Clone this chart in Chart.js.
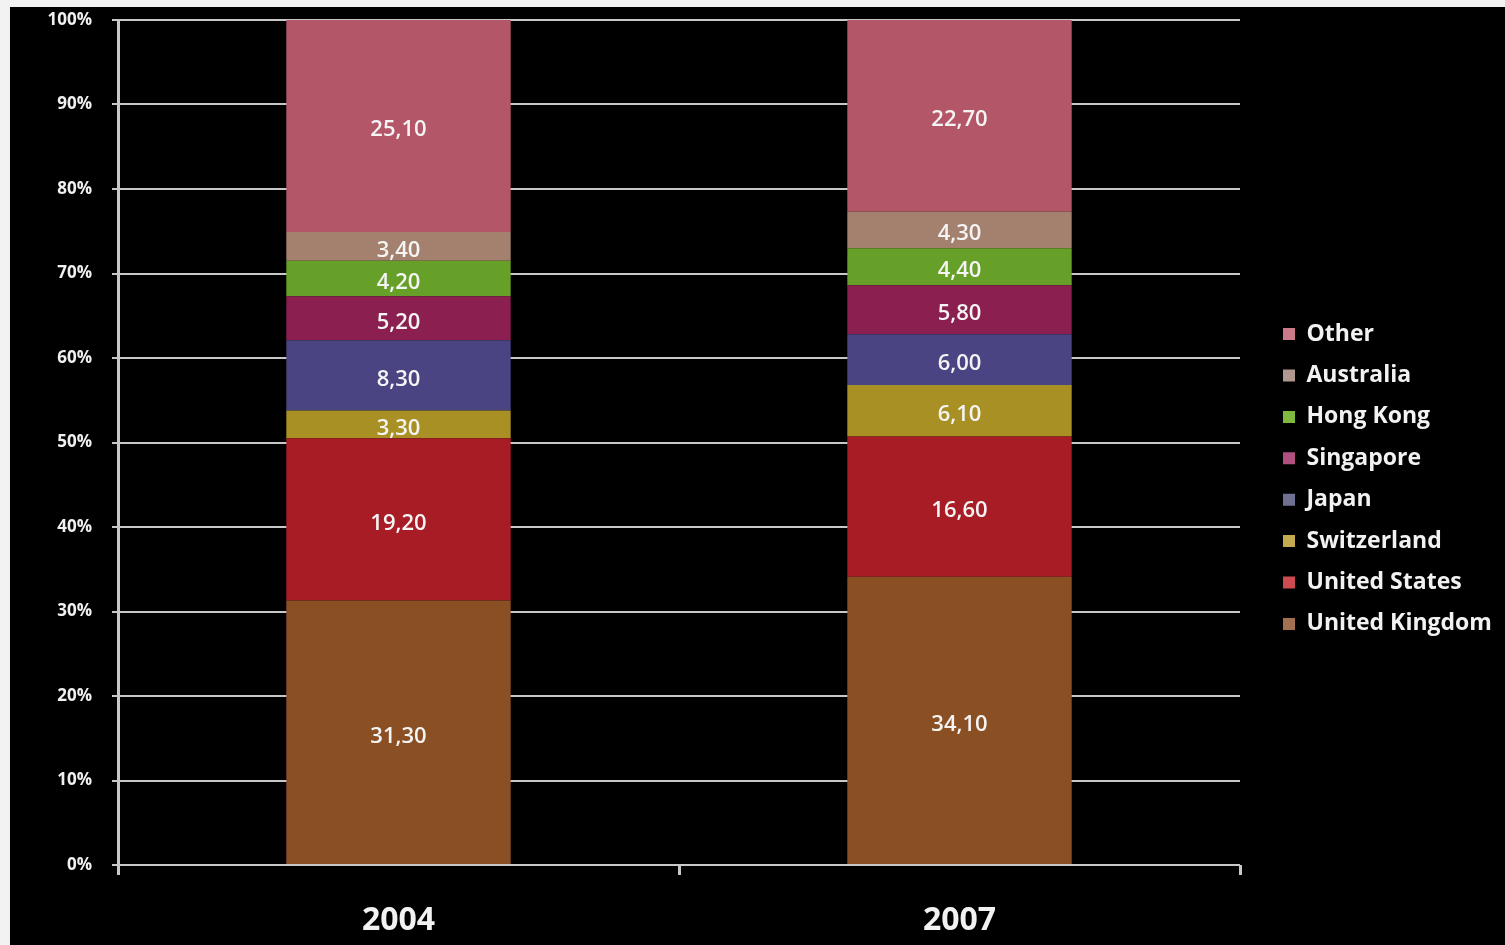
<!DOCTYPE html>
<html>
<head>
<meta charset="utf-8">
<script src="https://cdn.jsdelivr.net/npm/chart.js@4/dist/chart.umd.min.js"></script>
<style>
  html, body { margin: 0; padding: 0; background: #f2f2f2; width: 1505px; height: 945px; overflow: hidden; }
  #frame { position: absolute; left: 10px; top: 7px; width: 1495px; height: 938px; background: #000; }
  canvas { display: block; }
</style>
</head>
<body>
<div id="frame"><canvas id="c" width="1495" height="938"></canvas></div>
<script>
// ---- data ----
const categories = ['2004', '2007'];
const seriesNames = ['United Kingdom', 'United States', 'Switzerland', 'Japan', 'Singapore', 'Hong Kong', 'Australia', 'Other'];
const ukValues = [31.3, 34.1];
const usValues = [19.2, 16.6];
const chValues = [3.3, 6.1];
const jpValues = [8.3, 6.0];
const sgValues = [5.2, 5.8];
const hkValues = [4.2, 4.4];
const auValues = [3.4, 4.3];
const otherValues = [25.1, 22.7];
const yTickValues = [0, 10, 20, 30, 40, 50, 60, 70, 80, 90, 100];

// ---- styles ----
const barColors = ['#8a5024', '#a81c26', '#a89024', '#4a4482', '#8a1f50', '#66a028', '#a4806e', '#b35668'];
const legendColors = ['#a07050', '#cc4a50', '#c4aa50', '#707090', '#b05080', '#80b840', '#b09890', '#cc7a8a'];
const FONT = '"Open Sans", "DejaVu Sans", sans-serif';

const allValues = [ukValues, usValues, chValues, jpValues, sgValues, hkValues, auValues, otherValues];

// layout constants
const CANVAS_W = 1495;
const PLOT_LEFT = 108, PLOT_RIGHT = 1230;
const LEGEND_FONT = 23, LEGEND_PAD = 18.4, LEGEND_BOX = 12;
const LEGEND_BOX_X = 1273;

const mctx = document.createElement('canvas').getContext('2d');
mctx.font = 'bold ' + LEGEND_FONT + 'px ' + FONT;
let maxText = 0;
seriesNames.forEach(n => { maxText = Math.max(maxText, mctx.measureText(n).width); });
const legendLeft = LEGEND_BOX_X - LEGEND_PAD;
const legendWidth = LEGEND_PAD + LEGEND_BOX + LEGEND_FONT / 2 + maxText + 10;
const padRight = Math.max(0, CANVAS_W - legendLeft - legendWidth);

const datasets = seriesNames.map((name, i) => ({
  label: name,
  data: allValues[i],
  backgroundColor: barColors[i],
  borderWidth: 0,
  categoryPercentage: 1.0,
  barPercentage: 0.4,
  yAxisID: 'y'
}));

const valueLabels = {
  id: 'valueLabels',
  afterDatasetsDraw(chart) {
    const ctx = chart.ctx;
    ctx.save();
    ctx.font = '600 22px ' + FONT;
    ctx.fillStyle = '#f4f4f4';
    ctx.textAlign = 'center';
    ctx.textBaseline = 'middle';
    chart.data.datasets.forEach((ds, di) => {
      const meta = chart.getDatasetMeta(di);
      meta.data.forEach((el, j) => {
        const p = el.getProps(['x', 'y', 'base'], true);
        const v = ds.data[j];
        ctx.fillText(v.toFixed(2).replace('.', ','), p.x, (p.y + p.base) / 2 + 4);
      });
    });
    ctx.restore();
  }
};

function noPad(s) {
  s.paddingTop = 0; s.paddingBottom = 0; s.paddingLeft = 0; s.paddingRight = 0;
}

new Chart(document.getElementById('c'), {
  type: 'bar',
  data: { labels: categories, datasets },
  plugins: [valueLabels],
  options: {
    responsive: false,
    animation: false,
    layout: { padding: { left: 0, right: padRight, top: 13, bottom: 7 } },
    plugins: {
      tooltip: { enabled: false },
      legend: {
        position: 'right',
        reverse: true,
        align: 'center',
        labels: {
          color: '#f2f2f2',
          boxWidth: LEGEND_BOX,
          boxHeight: LEGEND_BOX,
          padding: LEGEND_PAD,
          font: { family: FONT, size: LEGEND_FONT, weight: 'bold' },
          generateLabels(chart) {
            return chart.data.datasets.map((ds, i) => ({
              text: ds.label,
              fillStyle: legendColors[i],
              strokeStyle: legendColors[i],
              lineWidth: 0,
              fontColor: '#f2f2f2',
              datasetIndex: i,
              hidden: false
            }));
          }
        }
      }
    },
    scales: {
      x: {
        stacked: true,
        offset: true,
        afterFit(s) { s.height = 73; noPad(s); },
        grid: { display: true, drawOnChartArea: false, drawTicks: true, tickLength: 10, color: '#c8c8c8', lineWidth: 3, offset: true },
        border: { display: false },
        ticks: { color: '#f2f2f2', padding: 27, font: { family: FONT, size: 32, weight: 'bold' } }
      },
      y: {
        stacked: true,
        min: 0, max: 100,
        afterFit(s) { s.width = PLOT_LEFT; noPad(s); },
        afterBuildTicks(s) { s.ticks = yTickValues.map(v => ({ value: v })); },
        grid: { color: '#c8c8c8', lineWidth: 2, tickLength: 6, drawTicks: true },
        border: { display: true, color: '#c8c8c8', width: 3 },
        ticks: {
          color: '#f0f0f0', padding: 20,
          font: { family: FONT, size: 17, weight: 'bold' },
          callback: v => v + '%'
        }
      },
      y2: {
        position: 'right',
        display: true,
        afterFit(s) { s.width = legendLeft - PLOT_RIGHT; noPad(s); },
        grid: { display: false },
        border: { display: false },
        ticks: { display: false }
      }
    }
  }
});
</script>
</body>
</html>
